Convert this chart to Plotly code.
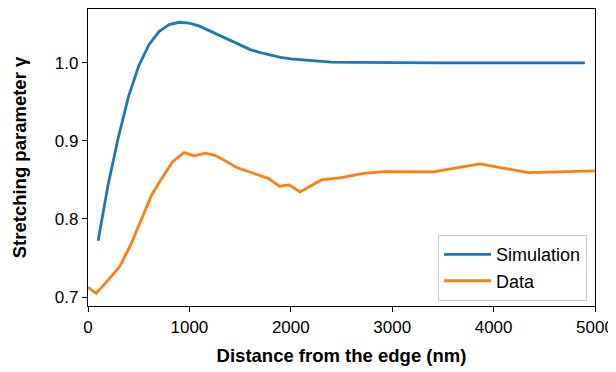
import plotly.graph_objects as go

sim_x = [100, 200, 300, 400, 500, 600, 700, 800, 900, 1000, 1100, 1200, 1300, 1400, 1500,
         1600, 1700, 1800, 1900, 2000, 2200, 2400, 2600, 2800, 3000, 3500, 4000, 4500, 4900]
sim_y = [0.772, 0.845, 0.905, 0.957, 0.996, 1.023, 1.040, 1.049, 1.052, 1.051, 1.047, 1.041,
         1.035, 1.029, 1.023, 1.017, 1.013, 1.010, 1.007, 1.005, 1.003, 1.001, 1.0005, 1.0002,
         1.0, 1.0, 1.0, 1.0, 1.0]

data_x = [0, 80, 200, 316, 421, 529, 628, 727, 835, 947, 1048, 1154, 1252, 1368, 1466,
          1778, 1887, 1985, 2091, 2300, 2500, 2715, 2929, 3405, 3866, 4343, 5000]
data_y = [0.7124, 0.7047, 0.722, 0.7397, 0.7667, 0.801, 0.8308, 0.852, 0.8735, 0.885, 0.8808,
          0.8842, 0.8816, 0.8735, 0.866, 0.852, 0.842, 0.8436, 0.8346, 0.850, 0.853, 0.8585,
          0.8606, 0.8603, 0.8705, 0.8594, 0.8615]

x_ticks = [0, 1000, 2000, 3000, 4000, 5000]
y_ticks = [0.7, 0.8, 0.9, 1.0]

font_family = "Liberation Sans, Arial, sans-serif"

fig = go.Figure()
fig.add_trace(go.Scatter(x=sim_x, y=sim_y, mode="lines", name="Simulation",
                         line=dict(color="#1f77b4", width=2.8)))
fig.add_trace(go.Scatter(x=data_x, y=data_y, mode="lines", name="Data",
                         line=dict(color="#ff7f0e", width=2.8)))

axis_common = dict(showgrid=False, zeroline=False, showline=True, linecolor="black",
                   linewidth=1.4, mirror=True, ticks="outside", ticklen=5, tickwidth=1.2,
                   tickcolor="black", automargin=True,
                   tickfont=dict(family=font_family, size=17, color="black"))

# page body has an 8px margin, so the figure is sized to fit the 616x372 window
fig.update_layout(
    width=608, height=364,
    margin=dict(l=80, r=21, t=1, b=66),
    paper_bgcolor="white", plot_bgcolor="white",
    font=dict(family=font_family, color="black"),
    xaxis=dict(range=[0, 5000], tickvals=x_ticks, ticktext=[str(v) for v in x_ticks],
               title=dict(text="<b>Distance from the edge (nm)</b>",
                          font=dict(family=font_family, size=18.5), standoff=13),
               **axis_common),
    yaxis=dict(range=[0.6885, 1.069], tickvals=y_ticks, ticktext=["0.7", "0.8", "0.9", "1.0"],
               title=dict(text="<b>Stretching parameter γ</b>",
                          font=dict(family=font_family, size=18.5), standoff=23),
               **axis_common),
    legend=dict(x=0.984, y=0.017, xanchor="right", yanchor="bottom",
                bgcolor="rgba(255,255,255,0.8)", bordercolor="#cccccc", borderwidth=1.2,
                font=dict(family=font_family, size=18, color="black"),
                itemwidth=47, tracegroupgap=0),
    showlegend=True,
)

fig.write_html("out.html")
